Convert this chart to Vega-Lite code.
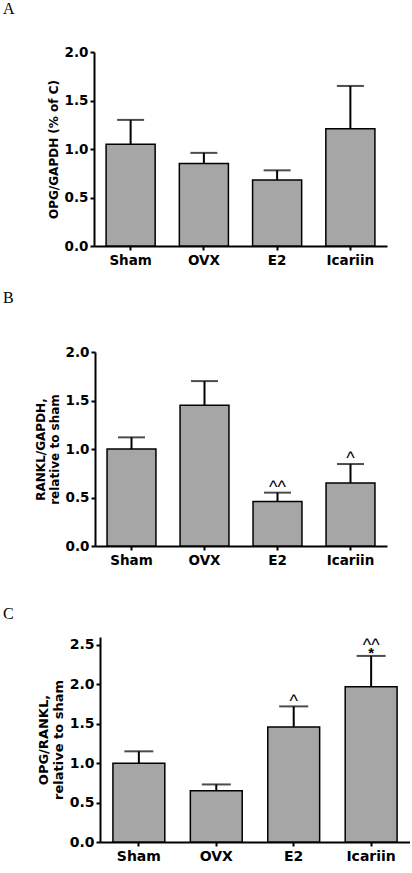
{
  "$schema": "https://vega.github.io/schema/vega-lite/v6.json",
  "padding": {"left": 0, "top": 1, "right": 0, "bottom": 0},
  "background": "white",
  "data": {"values": [
    {"panel": "A", "group": "Sham", "mean": 1.05, "upper": 1.30, "note": "", "note_top": "", "star": ""},
    {"panel": "A", "group": "OVX", "mean": 0.85, "upper": 0.96, "note": "", "note_top": "", "star": ""},
    {"panel": "A", "group": "E2", "mean": 0.68, "upper": 0.78, "note": "", "note_top": "", "star": ""},
    {"panel": "A", "group": "Icariin", "mean": 1.21, "upper": 1.65, "note": "", "note_top": "", "star": ""},
    {"panel": "B", "group": "Sham", "mean": 1.00, "upper": 1.12, "note": "", "note_top": "", "star": ""},
    {"panel": "B", "group": "OVX", "mean": 1.45, "upper": 1.70, "note": "", "note_top": "", "star": ""},
    {"panel": "B", "group": "E2", "mean": 0.46, "upper": 0.55, "note": "^^", "note_top": "", "star": ""},
    {"panel": "B", "group": "Icariin", "mean": 0.65, "upper": 0.845, "note": "^", "note_top": "", "star": ""},
    {"panel": "C", "group": "Sham", "mean": 1.00, "upper": 1.15, "note": "", "note_top": "", "star": ""},
    {"panel": "C", "group": "OVX", "mean": 0.65, "upper": 0.73, "note": "", "note_top": "", "star": ""},
    {"panel": "C", "group": "E2", "mean": 1.46, "upper": 1.72, "note": "^", "note_top": "", "star": ""},
    {"panel": "C", "group": "Icariin", "mean": 1.97, "upper": 2.36, "note": "", "note_top": "^^", "star": "*"}
  ]},
  "config": {
    "view": {"stroke": null},
    "axis": {
      "grid": false,
      "domainColor": "black", "domainWidth": 2,
      "tickColor": "black", "tickWidth": 2, "tickSize": 4,
      "labelFont": "DejaVu Sans", "labelFontWeight": "bold", "labelFontSize": 13.5, "labelColor": "black",
      "titleFont": "DejaVu Sans", "titleFontWeight": "bold", "titleFontSize": 12, "titleColor": "black"
    },
    "title": {"font": "Liberation Serif", "fontSize": 16, "fontWeight": "normal", "color": "black", "anchor": "start", "frame": "group"}
  },
  "vconcat": [
    {
      "vconcat": [
        {
          "spacing": 2,
          "hconcat": [
            {"width": 1, "height": 1, "mark": {"type": "text", "text": ""}},
            {
              "title": {"text": "A", "dx": -91, "offset": 28},
              "width": 293, "height": 194,
              "transform": [{"filter": "datum.panel == 'A'"}],
              "encoding": {
                "x": {"field": "group", "type": "nominal", "sort": ["Sham", "OVX", "E2", "Icariin"],
                      "scale": {"paddingInner": 0.33, "paddingOuter": 0.165},
                      "axis": {"title": null, "labelAngle": 0, "labelPadding": 3}}
              },
              "layer": [
                {"mark": {"type": "rule", "color": "black", "strokeWidth": 2},
                 "encoding": {"y": {"field": "mean", "type": "quantitative"}, "y2": {"field": "upper"}}},
                {"mark": {"type": "tick", "color": "black", "thickness": 2, "size": 27},
                 "encoding": {"y": {"field": "upper", "type": "quantitative"}}},
                {"mark": {"type": "bar", "fill": "#a6a6a6", "stroke": "black", "strokeWidth": 1.5},
                 "encoding": {"y": {"field": "mean", "type": "quantitative",
                                    "scale": {"domain": [0, 2]},
                                    "axis": {"title": "OPG/GAPDH (% of C)", "values": [0, 0.5, 1, 1.5, 2], "format": ".1f", "titlePadding": 4, "labelPadding": 2}}}}
              ]
            }
          ]
        },
        {
          "spacing": 2,
          "hconcat": [
            {"width": 1, "height": 1, "mark": {"type": "text", "text": ""}},
            {
              "title": {"text": "B", "dx": -92, "offset": 39},
              "width": 292, "height": 194,
              "transform": [{"filter": "datum.panel == 'B'"}],
              "encoding": {
                "x": {"field": "group", "type": "nominal", "sort": ["Sham", "OVX", "E2", "Icariin"],
                      "scale": {"paddingInner": 0.33, "paddingOuter": 0.165},
                      "axis": {"title": null, "labelAngle": 0, "labelPadding": 3}}
              },
              "layer": [
                {"mark": {"type": "rule", "color": "black", "strokeWidth": 2},
                 "encoding": {"y": {"field": "mean", "type": "quantitative"}, "y2": {"field": "upper"}}},
                {"mark": {"type": "tick", "color": "black", "thickness": 2, "size": 27},
                 "encoding": {"y": {"field": "upper", "type": "quantitative"}}},
                {"mark": {"type": "bar", "fill": "#a6a6a6", "stroke": "black", "strokeWidth": 1.5},
                 "encoding": {"y": {"field": "mean", "type": "quantitative",
                                    "scale": {"domain": [0, 2]},
                                    "axis": {"title": ["RANKL/GAPDH,", "relative to sham"], "values": [0, 0.5, 1, 1.5, 2], "format": ".1f", "titlePadding": 4, "labelPadding": 2}}}},
                {"mark": {"type": "text", "font": "Liberation Sans", "fontSize": 18, "baseline": "alphabetic", "dy": 0, "color": "black"},
                 "encoding": {"y": {"field": "upper", "type": "quantitative"}, "text": {"field": "note"}}}
              ]
            }
          ]
        }
      ],
      "spacing": 23
    },
    {
      "spacing": 2,
      "hconcat": [
        {"width": 1, "height": 1, "mark": {"type": "text", "text": ""}},
        {
          "title": {"text": "C", "dx": -97, "offset": 15},
          "width": 310, "height": 205,
          "transform": [{"filter": "datum.panel == 'C'"}],
          "encoding": {
            "x": {"field": "group", "type": "nominal", "sort": ["Sham", "OVX", "E2", "Icariin"],
                  "scale": {"paddingInner": 0.33, "paddingOuter": 0.167},
                  "axis": {"title": null, "labelAngle": 0, "labelPadding": 3, "labelFontSize": 14}}
          },
          "layer": [
            {"mark": {"type": "rule", "color": "black", "strokeWidth": 2},
             "encoding": {"y": {"field": "mean", "type": "quantitative"}, "y2": {"field": "upper"}}},
            {"mark": {"type": "tick", "color": "black", "thickness": 2, "size": 29},
             "encoding": {"y": {"field": "upper", "type": "quantitative"}}},
            {"mark": {"type": "bar", "fill": "#a6a6a6", "stroke": "black", "strokeWidth": 1.5},
             "encoding": {"y": {"field": "mean", "type": "quantitative",
                                "scale": {"domain": [0, 2.5]},
                                "axis": {"title": ["OPG/RANKL,", "relative to sham"], "values": [0, 0.5, 1, 1.5, 2, 2.5], "format": ".1f", "titlePadding": 4, "labelPadding": 2, "labelFontSize": 14, "titleFontSize": 13}}}},
            {"mark": {"type": "text", "font": "Liberation Sans", "fontSize": 18, "baseline": "alphabetic", "dy": 1, "color": "black"},
             "encoding": {"y": {"field": "upper", "type": "quantitative"}, "text": {"field": "note"}}},
            {"mark": {"type": "text", "font": "Liberation Sans", "fontSize": 18, "baseline": "alphabetic", "dy": -5, "color": "black"},
             "encoding": {"y": {"field": "upper", "type": "quantitative"}, "text": {"field": "note_top"}}},
            {"mark": {"type": "text", "font": "Liberation Sans", "fontWeight": "bold", "fontSize": 15, "baseline": "alphabetic", "dy": 2, "color": "black"},
             "encoding": {"y": {"field": "upper", "type": "quantitative"}, "text": {"field": "star"}}}
          ]
        }
      ]
    }
  ],
  "spacing": 38
}
